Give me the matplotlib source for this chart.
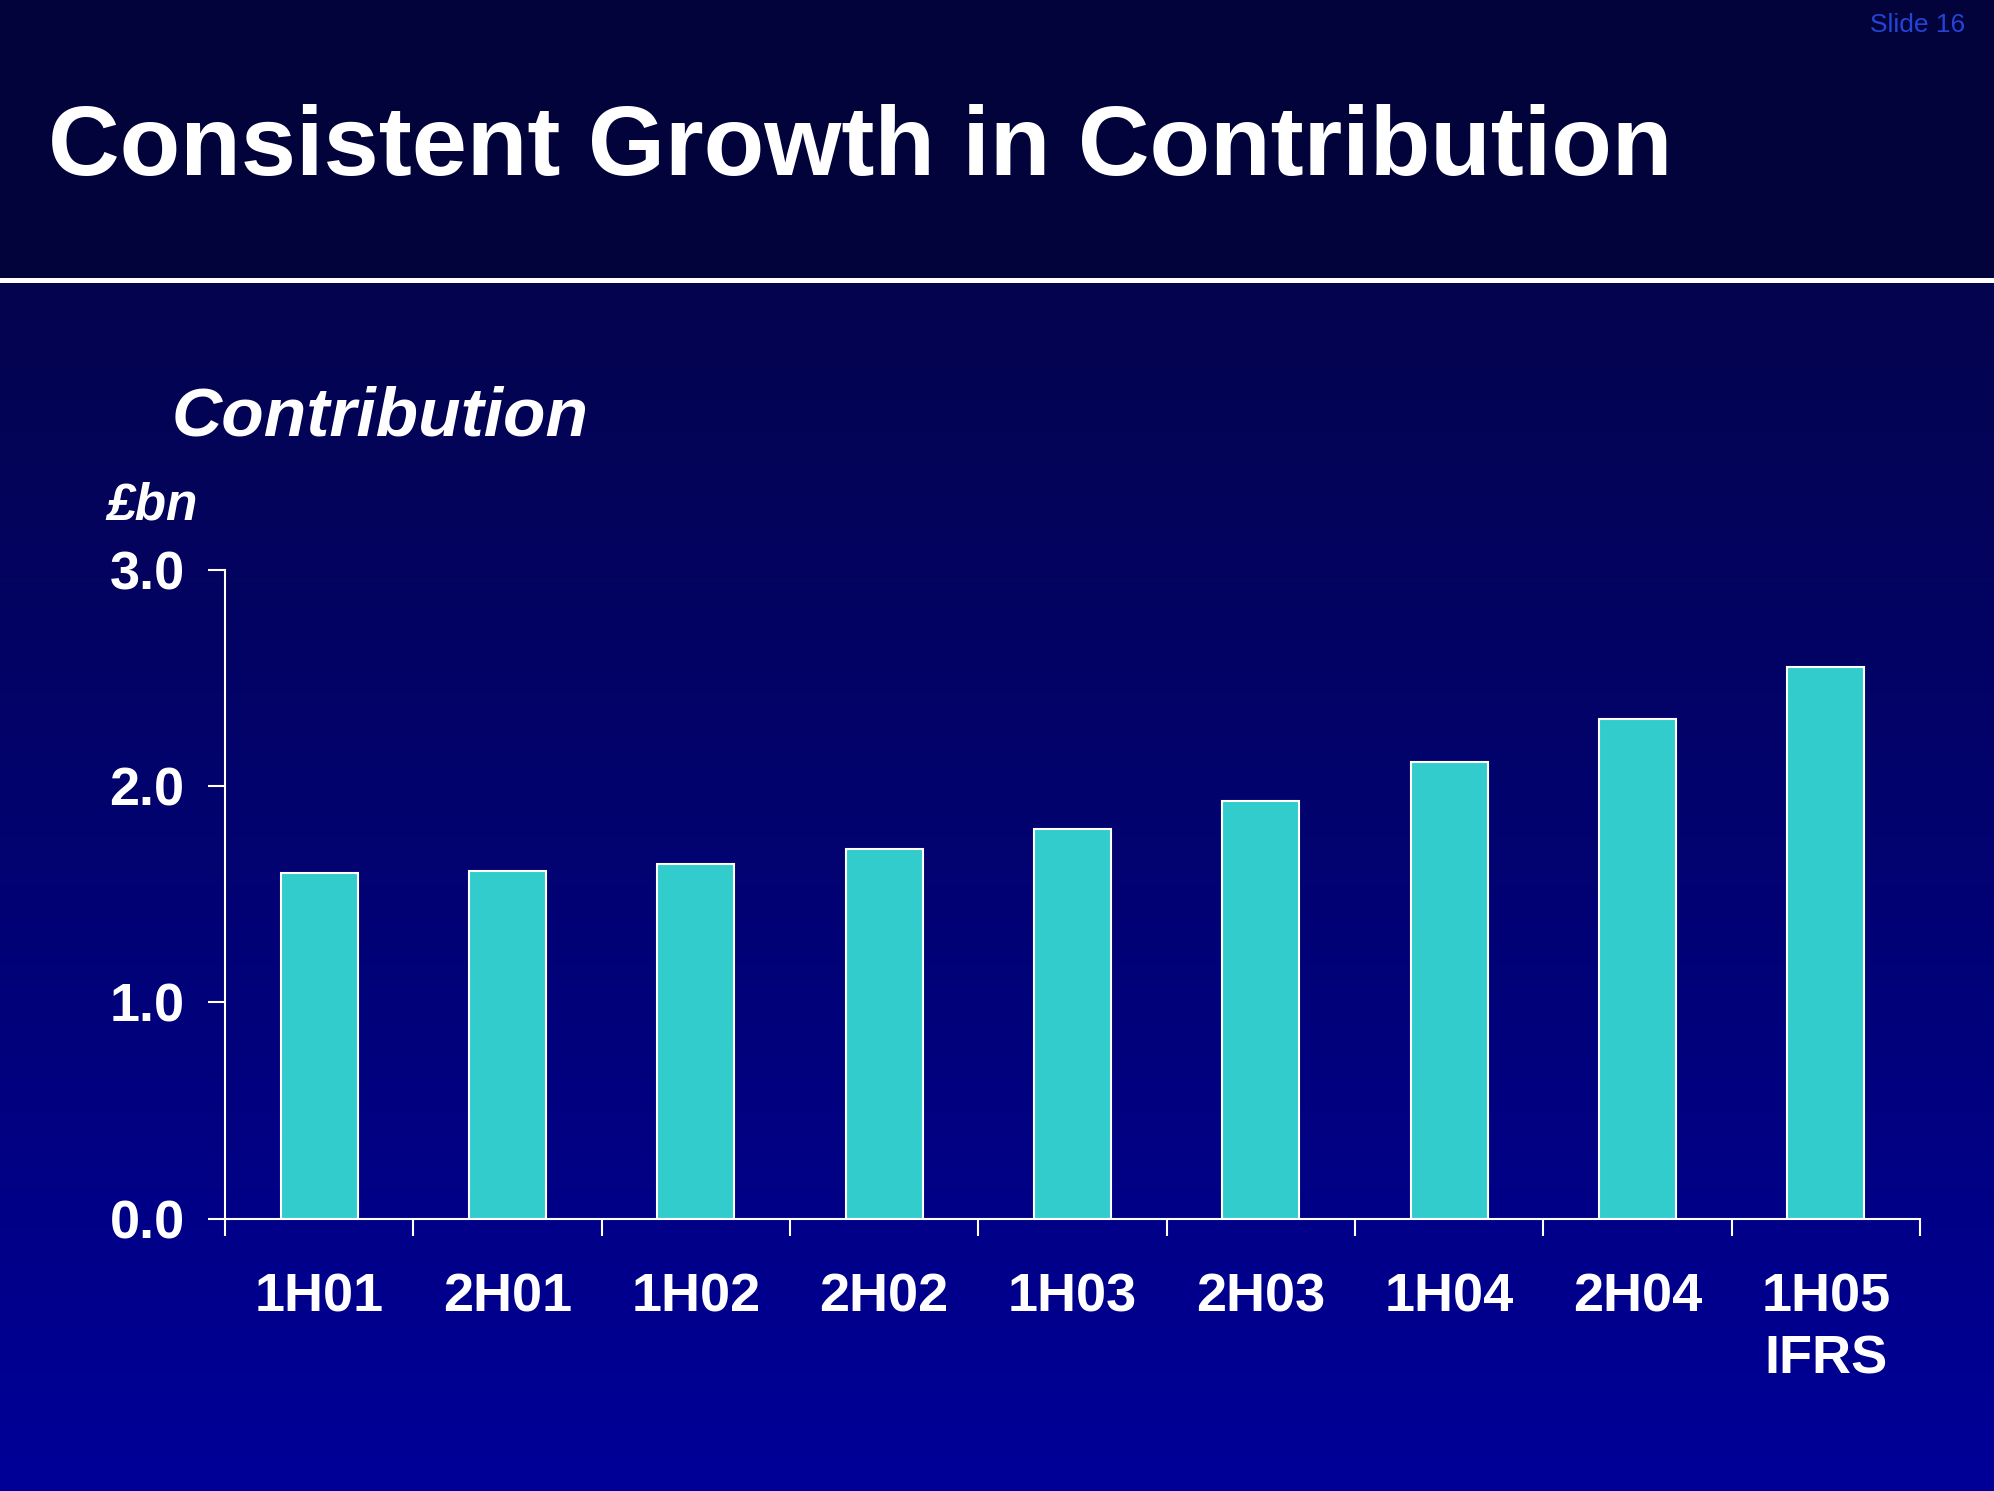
import numpy as np
import matplotlib
matplotlib.use('Agg')
import matplotlib.pyplot as plt
from matplotlib import font_manager
from matplotlib.colors import LinearSegmentedColormap

# data
periods = ['1H01', '2H01', '1H02', '2H02', '1H03', '2H03', '1H04', '2H04', '1H05\nIFRS']
contribution = [1.60, 1.61, 1.64, 1.71, 1.80, 1.93, 2.11, 2.31, 2.55]
y_ticks = [0.0, 1.0, 2.0, 3.0]

W, H = 1994, 1491

# Tahoma-like narrow bold font if we have one
names = {f.name for f in font_manager.fontManager.ttflist}
if 'DejaVu Sans Condensed' in names:
    main_font = 'DejaVu Sans Condensed'
else:
    main_font = 'Liberation Sans'
plt.rcParams['font.family'] = [main_font, 'DejaVu Sans']


def fx(px):
    return px / W


def fy(py):
    return 1 - py / H


fig = plt.figure(figsize=(W / 100, H / 100), dpi=100)

# slide background: flat header, gradient body, white rule
bg = fig.add_axes([0, 0, 1, 1], zorder=0)
bg.set_xlim(0, 1)
bg.set_ylim(0, 1)
bg.set_axis_off()
grad = np.linspace(0, 1, 256).reshape(-1, 1)
cmap = LinearSegmentedColormap.from_list('slide', ['#000098', '#04044e'])
bg.imshow(grad, cmap=cmap, aspect='auto', origin='lower', extent=[0, 1, 0, fy(280)])
bg.axhspan(fy(280), 1, color='#03033c', lw=0)
bg.axhline(fy(279.5), color='white', lw=3.6)

# chart
ax = fig.add_axes([fx(225), fy(1218.6), fx(1920 - 225), (1218.6 - 570) / H], zorder=1)
ax.patch.set_alpha(0)
x = np.arange(len(periods))
ax.bar(x, contribution, width=0.41, color='#33cccc', edgecolor='white', linewidth=1.5)
ax.set_xlim(-0.5, len(periods) - 0.5)
ax.set_ylim(0, 3)

for s in ['top', 'right']:
    ax.spines[s].set_visible(False)
for s in ['left', 'bottom']:
    ax.spines[s].set_color('white')
    ax.spines[s].set_linewidth(1.5)

ax.set_yticks(y_ticks)
ax.set_yticklabels([f'{v:.1f}' for v in y_ticks], fontsize=39, fontweight='bold', color='white')
ax.tick_params(axis='y', length=12, width=1.5, color='white', pad=17)

# major ticks at the category edges, labels on minor ticks at the centres
ax.set_xticks(np.arange(-0.5, len(periods), 1))
ax.set_xticklabels([])
ax.tick_params(axis='x', which='major', length=12, width=1.5, color='white')
ax.set_xticks(x, minor=True)
ax.set_xticklabels(periods, minor=True, fontsize=39, fontweight='bold', color='white', linespacing=1.3)
ax.tick_params(axis='x', which='minor', length=0, pad=39)

# slide texts
fig.text(fx(48), fy(175), 'Consistent Growth in Contribution', fontsize=71.4, fontweight='bold',
         color='white', ha='left', va='baseline')
fig.text(fx(172), fy(435), 'Contribution', fontsize=50, fontweight='bold', style='italic',
         color='white', ha='left', va='baseline')
fig.text(fx(106), fy(520), '£bn', fontsize=37, fontweight='bold', style='italic',
         color='white', ha='left', va='baseline')
fig.text(fx(1965), fy(32), 'Slide 16', fontsize=19, family='Liberation Sans',
         color='#2444d8', ha='right', va='baseline')

fig.savefig('out.png', dpi=100)
